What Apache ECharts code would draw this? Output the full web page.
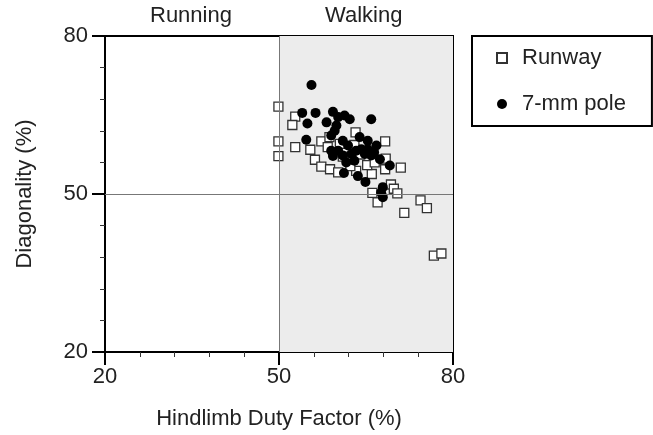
<!DOCTYPE html>
<html>
<head>
<meta charset="utf-8">
<script src="https://cdn.jsdelivr.net/npm/echarts@6/dist/echarts.min.js"></script>
<style>html,body{margin:0;padding:0;background:#fff}#c{width:653px;height:435px}</style>
</head>
<body>
<div id="c"></div>
<script>
const seriesNames = ['Runway', '7-mm pole'];
const gaitLabels = ['Running', 'Walking'];
const xTitle = 'Hindlimb Duty Factor (%)';
const yTitle = 'Diagonality (%)';
const axisMin = 20, axisMax = 80, majorStep = 30;
const threshold = 50;

const runwayX = [49.9,49.9,49.9,52.8,52.3,52.8,55.4,56.2,57.3,57.3,58.7,58.8,60.2,61.0,63.2,63.3,66.0,68.3,68.4,68.3,71.0,69.3,69.8,70.4,66.1,67.0,71.6,74.4,75.5,76.7,78.0,61.5,62.3,64.0,65.2,58.4,60.5,63.0,66.5];
const runwayY = [66.6,60.0,57.2,64.7,63.1,58.9,58.4,56.5,55.2,60.0,60.8,54.7,54.1,57.1,61.7,54.4,53.8,60.0,56.7,54.7,55.0,51.8,51.0,50.1,50.2,48.4,46.4,48.8,47.3,38.3,38.7,58.8,55.3,57.5,55.5,58.9,59.5,59.3,56.0];

const poleX = [55.6,54.0,56.3,54.9,59.3,60.2,61.3,62.2,58.2,65.9,59.9,59.0,54.7,61.0,61.9,63.9,65.3,66.8,59.0,59.3,62.5,63.3,64.8,65.9,67.4,61.6,63.0,69.1,61.2,63.6,64.9,67.9,67.9,67.6,64.2,61.0,59.6,65.3,66.4,60.2];
const poleY = [70.7,65.4,65.4,63.4,65.6,64.6,64.9,64.2,63.6,64.2,63.0,61.1,60.3,60.1,59.2,60.8,60.1,59.2,58.2,57.2,57.6,58.2,57.6,57.3,56.6,56.0,56.3,55.4,54.0,53.4,52.3,51.3,49.4,50.3,58.5,57.3,62.0,58.5,57.9,58.2];

const zip = (xs, ys) => xs.map((x, i) => [x, ys[i]]);

const chart = echarts.init(document.getElementById('c'), null, {renderer: 'canvas'});
const font = 'Liberation Sans, Arial, Helvetica, sans-serif';
const gridL = 105, gridT = 36, gridW = 348, gridH = 316;

function axisCommon() {
  return {
    min: axisMin, max: axisMax, interval: majorStep,
    axisLine: {show: true, lineStyle: {color: '#000', width: 2}},
    axisTick: {show: true, inside: false, length: 13, lineStyle: {color: '#000', width: 2}},
    minorTick: {show: true, splitNumber: 5, length: 5, lineStyle: {color: '#333', width: 1}},
    splitLine: {show: false},
    minorSplitLine: {show: false},
    nameTextStyle: {fontFamily: font, fontSize: 22, color: '#222'},
  };
}

chart.setOption({
  animation: false,
  backgroundColor: '#fff',
  textStyle: {fontFamily: font},
  grid: {left: gridL, top: gridT, width: gridW, height: gridH, show: true, borderColor: '#000', borderWidth: 2, backgroundColor: 'transparent'},
  xAxis: Object.assign(axisCommon(), {
    type: 'value',
    name: xTitle, nameLocation: 'middle', nameGap: 56,
    axisLabel: {fontFamily: font, fontSize: 22, color: '#222', margin: 14}
  }),
  yAxis: Object.assign(axisCommon(), {
    type: 'value',
    name: yTitle, nameLocation: 'middle', nameGap: 69, nameRotate: 90,
    axisLabel: {fontFamily: font, fontSize: 22, color: '#222', margin: 17}
  }),
  legend: {
    data: seriesNames,
    orient: 'vertical',
    left: 472, top: 36,
    padding: [9, 26, 9, 24],
    borderColor: '#000', borderWidth: 2,
    itemWidth: 10, itemHeight: 10, itemGap: 20,
    textStyle: {fontFamily: font, fontSize: 22, color: '#222', lineHeight: 26, padding: [0, 0, 0, 10]}
  },
  graphic: [
    {type: 'text', left: 192 - 42, top: 5, style: {text: gaitLabels[0], font: '22px ' + font, fill: '#222'}},
    {type: 'text', left: 366 - 41, top: 5, style: {text: gaitLabels[1], font: '22px ' + font, fill: '#222'}}
  ],
  series: [
    {
      name: 'bg', type: 'scatter', data: [], z: 0, silent: true,
      markArea: {silent: true, itemStyle: {color: '#ececec'}, data: [[{xAxis: threshold, yAxis: axisMin}, {xAxis: axisMax, yAxis: axisMax}]]},
      markLine: {silent: true, symbol: 'none', label: {show: false}, lineStyle: {color: '#777', width: 1, type: 'solid'},
        data: [{xAxis: threshold}, {yAxis: threshold}]}
    },
    {
      name: seriesNames[0], type: 'scatter', z: 2,
      symbol: 'rect', symbolSize: 9,
      itemStyle: {color: '#fff', borderColor: '#333', borderWidth: 1.3, opacity: 1},
      data: zip(runwayX, runwayY)
    },
    {
      name: seriesNames[1], type: 'scatter', z: 3,
      symbol: 'circle', symbolSize: 10,
      itemStyle: {color: '#000', opacity: 1},
      data: zip(poleX, poleY)
    }
  ]
});
</script>
</body>
</html>
